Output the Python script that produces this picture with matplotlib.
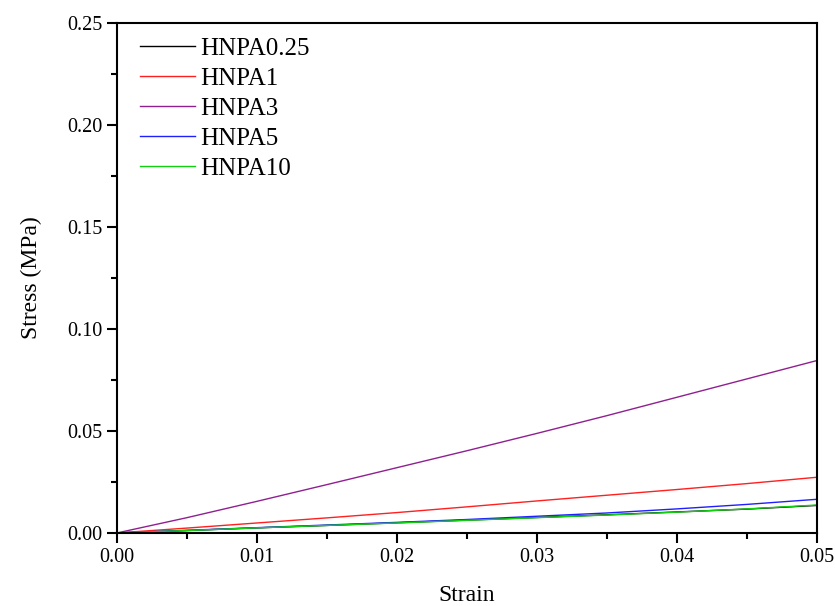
import numpy as np
import matplotlib.pyplot as plt
from matplotlib.ticker import MultipleLocator

# strain sample points and stress values (MPa)
strain = [0.0, 0.005, 0.01, 0.015, 0.02, 0.025, 0.03, 0.035, 0.04, 0.045, 0.05]
hnpa025 = [0.0, 0.0012, 0.0025, 0.0037, 0.0050, 0.0063, 0.0076, 0.0089, 0.0103, 0.0117, 0.0135]
hnpa1 = [0.0, 0.0024, 0.0049, 0.0074, 0.0100, 0.0128, 0.0157, 0.0185, 0.0213, 0.0242, 0.0273]
hnpa3 = [0.0, 0.0075, 0.0155, 0.0237, 0.0320, 0.0403, 0.0488, 0.0575, 0.0665, 0.0755, 0.0845]
hnpa5 = [0.0, 0.0013, 0.0026, 0.0039, 0.0052, 0.0066, 0.0082, 0.0098, 0.0118, 0.0140, 0.0165]
hnpa10 = [0.0, 0.0012, 0.0025, 0.0037, 0.0049, 0.0062, 0.0075, 0.0088, 0.0102, 0.0118, 0.0137]

plt.rcParams['font.family'] = ['Liberation Serif', 'DejaVu Serif']

fig = plt.figure(figsize=(8.35, 6.06), dpi=100)
ax = fig.add_axes([0.140, 0.1205, 0.838, 0.8415])

ax.plot(strain, hnpa025, color='black', lw=1.0, label='HNPA0.25')
ax.plot(strain, hnpa1, color='#ff2020', lw=1.0, label='HNPA1')
ax.plot(strain, hnpa3, color='#902090', lw=1.0, label='HNPA3')
ax.plot(strain, hnpa5, color='#2020ff', lw=1.0, label='HNPA5')
ax.plot(strain, hnpa10, color='#10d010', lw=1.0, label='HNPA10')

ax.set_xlim(0, 0.05)
ax.set_ylim(0, 0.25)
ax.xaxis.set_major_locator(MultipleLocator(0.01))
ax.xaxis.set_minor_locator(MultipleLocator(0.005))
ax.yaxis.set_major_locator(MultipleLocator(0.05))
ax.yaxis.set_minor_locator(MultipleLocator(0.025))
ax.xaxis.set_major_formatter(plt.FormatStrFormatter('%.2f'))
ax.yaxis.set_major_formatter(plt.FormatStrFormatter('%.2f'))

ax.tick_params(which='both', direction='out', width=1.5, labelsize=14.5)
ax.tick_params(which='major', length=7)
ax.tick_params(which='minor', length=4)
for s in ax.spines.values():
    s.set_linewidth(1.5)

ax.set_xlabel('Strain', fontsize=17, labelpad=13)
ax.set_ylabel('Stress (MPa)', fontsize=17, labelpad=18)

ax.legend(loc='upper left', bbox_to_anchor=(0.022, 0.987), frameon=False,
          fontsize=18, handlelength=2.2, handletextpad=0.2,
          labelspacing=0.3, borderaxespad=0.0, borderpad=0.3)

fig.savefig('out.png', dpi=100)
